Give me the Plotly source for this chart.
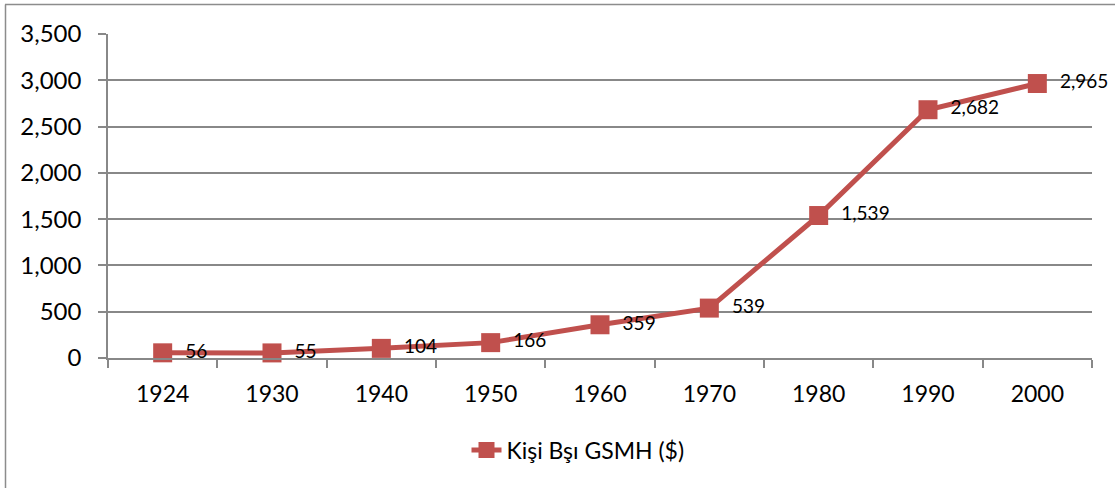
import plotly.graph_objects as go

years = ["1924", "1930", "1940", "1950", "1960", "1970", "1980", "1990", "2000"]
gsmh = [56, 55, 104, 166, 359, 539, 1539, 2682, 2965]
labels = ["56", "55", "104", "166", "359", "539", "1,539", "2,682", "2,965"]
series_name = "Kişi Bşı GSMH ($)"
y_ticks = [0, 500, 1000, 1500, 2000, 2500, 3000, 3500]

W, H = 1115, 488
L, R, T, B = 108, 23, 34, 130
pw, ph = W - L - R, H - T - B

red = "#C0504D"
grid = "#888888"
font = "Lato, Calibri, Carlito, sans-serif"

fig = go.Figure()
fig.add_trace(go.Scatter(
    x=years, y=gsmh, mode="lines+markers+text",
    name=series_name,
    text=["  " + t for t in labels], textposition="middle right",
    textfont=dict(size=19, color="#000000", family=font),
    line=dict(color=red, width=5),
    marker=dict(symbol="square", size=19, color=red),
    cliponaxis=False,
))

fig.update_layout(
    width=W, height=H,
    margin=dict(l=L, r=R, t=T, b=B, autoexpand=False),
    paper_bgcolor="white", plot_bgcolor="white",
    font=dict(family=font, color="#000000", size=23),
    showlegend=True,
    legend=dict(orientation="h", x=(578 - L) / pw, xanchor="center",
                y=-(450 - (T + ph)) / ph, yanchor="middle",
                font=dict(size=23, family=font)),
    xaxis=dict(type="category", range=[-0.5, len(years) - 0.5],
               showgrid=False, showline=True, linecolor=grid,
               linewidth=1.5, ticks="outside", ticklen=8, tickcolor=grid,
               tickwidth=1.5, tickson="boundaries", ticklabelstandoff=15,
               tickfont=dict(size=23), zeroline=False, automargin=False),
    yaxis=dict(range=[0, 3500], tickvals=y_ticks, tickformat=",",
               showgrid=True, gridcolor=grid, gridwidth=1.5,
               showline=True, linecolor=grid, linewidth=1.5,
               ticks="outside", ticklen=8, tickcolor=grid, tickwidth=1.5,
               ticklabelstandoff=12, tickfont=dict(size=24), zeroline=False,
               automargin=False),
    shapes=[
        dict(type="line", xref="paper", yref="paper",
             x0=(5 - L) / pw, x1=(W - L) / pw,
             y0=(T + ph - 4.5) / ph, y1=(T + ph - 4.5) / ph,
             line=dict(color="#8c8c8c", width=1.5)),
        dict(type="line", xref="paper", yref="paper",
             x0=(5.5 - L) / pw, x1=(5.5 - L) / pw,
             y0=(T + ph - 4.5) / ph, y1=(T + ph - H - 2) / ph,
             line=dict(color="#8c8c8c", width=1.5)),
    ],
)

fig.write_html("out.html", config={"displayModeBar": False},
               post_script="document.body.style.margin='0';")
